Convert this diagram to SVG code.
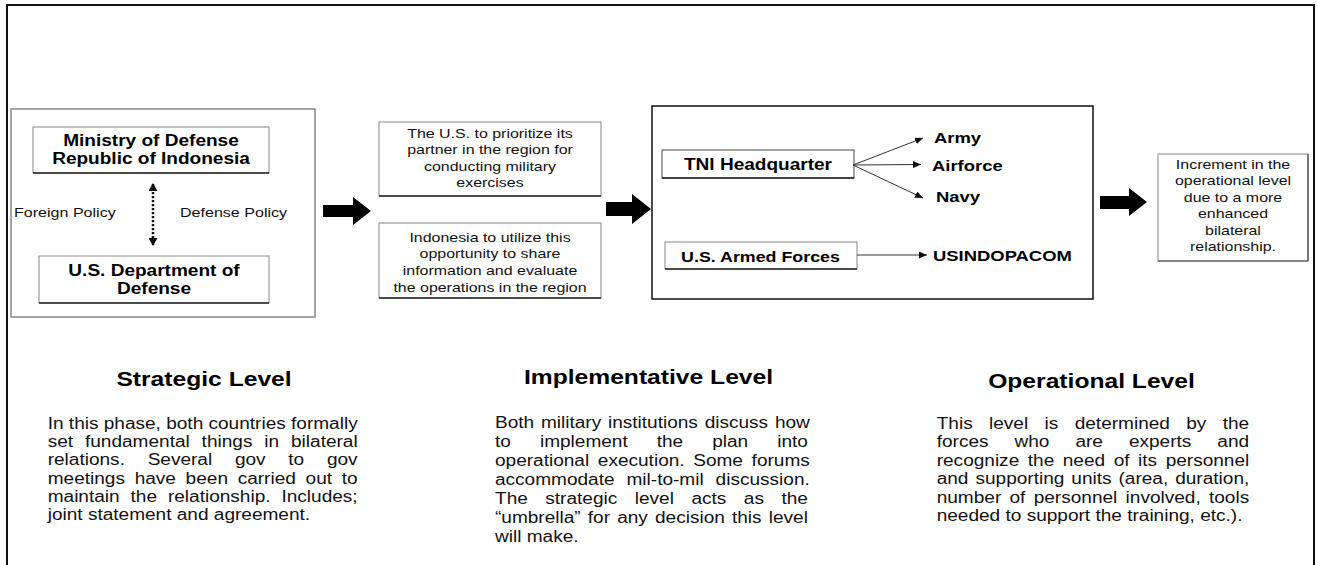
<svg xmlns="http://www.w3.org/2000/svg" width="1317" height="565" viewBox="0 0 1317 565">
<style>
.b{font-family:"Liberation Sans",Arial,sans-serif;font-weight:bold;fill:#000}
.r{font-family:"Liberation Sans",Arial,sans-serif;fill:#111}
.m{text-anchor:middle}
.box{fill:#fff;stroke:#888;stroke-width:1}
.shadow{stroke:#222;stroke-width:1.3}
.thin{stroke:#333;stroke-width:1;fill:none;marker-end:url(#ah)}
.block{fill:#000}
</style>
<defs>
<marker id="ah" viewBox="0 0 8 7" refX="8" refY="3.5" markerWidth="8" markerHeight="7" markerUnits="userSpaceOnUse" orient="auto"><path d="M0,0 L8,3.5 L0,7 z" fill="#111"/></marker>
<marker id="dh" viewBox="0 0 8 9" refX="7" refY="4.5" markerWidth="8" markerHeight="9" markerUnits="userSpaceOnUse" orient="auto-start-reverse"><path d="M0,0 L8,4.5 L0,9 z" fill="#111"/></marker>
</defs>
<rect x="0" y="0" width="1317" height="565" fill="#fff"/>
<path d="M7,565 V5 H1314 V565" fill="none" stroke="#111" stroke-width="2"/>

<g id="strategic-box">
<rect x="11" y="109" width="304" height="208" fill="#fff" stroke="#888" stroke-width="1.5"/>
</g>
<g id="mod-indonesia">
<rect class="box" x="33" y="127" width="236" height="46"/>
<line class="shadow" x1="33" y1="173" x2="269" y2="173"/>
<text class="b m" font-size="16" transform="matrix(1.19,0,0,1,151,0)" x="0" y="146.5">Ministry of Defense</text>
<text class="b m" font-size="16" transform="matrix(1.19,0,0,1,151,0)" x="0" y="164.5">Republic of Indonesia</text>
</g>
<g id="us-dod">
<rect class="box" x="39" y="256" width="230" height="47"/>
<line class="shadow" x1="39" y1="303" x2="269" y2="303"/>
<text class="b m" font-size="16" transform="matrix(1.19,0,0,1,154,0)" x="0" y="276">U.S. Department of</text>
<text class="b m" font-size="16" transform="matrix(1.19,0,0,1,154,0)" x="0" y="294">Defense</text>
</g>
<g id="policy-labels">
<text class="r" font-size="13.5" transform="matrix(1.19,0,0,1,14,0)" x="0" y="217">Foreign Policy</text>
<text class="r" font-size="13.5" transform="matrix(1.19,0,0,1,180,0)" x="0" y="217">Defense Policy</text>
</g>

<g id="impl-a">
<rect class="box" x="379" y="122" width="222" height="74"/>
<line class="shadow" x1="379" y1="196" x2="601" y2="196" stroke="#555"/>
<text class="r m" font-size="13.4" transform="matrix(1.19,0,0,1,490,0)" x="0" y="138">The U.S. to prioritize its</text>
<text class="r m" font-size="13.4" transform="matrix(1.19,0,0,1,490,0)" x="0" y="154.5">partner in the region for</text>
<text class="r m" font-size="13.4" transform="matrix(1.19,0,0,1,490,0)" x="0" y="171">conducting military</text>
<text class="r m" font-size="13.4" transform="matrix(1.19,0,0,1,490,0)" x="0" y="187.5">exercises</text>
</g>
<g id="impl-b">
<rect class="box" x="379" y="223" width="222" height="75"/>
<line class="shadow" x1="379" y1="298" x2="601" y2="298" stroke="#555"/>
<text class="r m" font-size="13.4" transform="matrix(1.19,0,0,1,490,0)" x="0" y="242">Indonesia to utilize this</text>
<text class="r m" font-size="13.4" transform="matrix(1.19,0,0,1,490,0)" x="0" y="258.5">opportunity to share</text>
<text class="r m" font-size="13.4" transform="matrix(1.19,0,0,1,490,0)" x="0" y="275.5">information and evaluate</text>
<text class="r m" font-size="13.4" transform="matrix(1.19,0,0,1,490,0)" x="0" y="292">the operations in the region</text>
</g>

<g id="operational-box">
<rect x="652" y="106" width="441" height="193" fill="#fff" stroke="#111" stroke-width="1.5"/>
</g>
<g id="tni-hq">
<rect x="662" y="150" width="192" height="28" fill="#fff" stroke="#444" stroke-width="1"/>
<line class="shadow" x1="662" y1="178" x2="854" y2="178"/>
<text class="b m" font-size="16" transform="matrix(1.19,0,0,1,758,0)" x="0" y="170">TNI Headquarter</text>
</g>
<g id="us-armed-forces">
<rect class="box" x="665" y="242" width="192" height="27"/>
<line class="shadow" x1="665" y1="269" x2="857" y2="269"/>
<text class="b m" font-size="15" transform="matrix(1.19,0,0,1,760.5,0)" x="0" y="262">U.S. Armed Forces</text>
</g>
<g id="army"><text class="b" font-size="15.5" transform="matrix(1.19,0,0,1,934,0)" x="0" y="143">Army</text></g>
<g id="airforce"><text class="b" font-size="15.5" transform="matrix(1.19,0,0,1,932,0)" x="0" y="171">Airforce</text></g>
<g id="navy"><text class="b" font-size="15.5" transform="matrix(1.19,0,0,1,936,0)" x="0" y="202">Navy</text></g>
<g id="usindopacom"><text class="b" font-size="15.5" transform="matrix(1.19,0,0,1,933,0)" x="0" y="261">USINDOPACOM</text></g>

<g id="result">
<rect class="box" x="1158" y="154" width="150" height="107" stroke="#777"/>
<line x1="1308" y1="154" x2="1308" y2="261" stroke="#444" stroke-width="1.2"/>
<line x1="1158" y1="261" x2="1308" y2="261" stroke="#444" stroke-width="1.2"/>
<text class="r m" font-size="13.4" transform="matrix(1.19,0,0,1,1233,0)" x="0" y="169">Increment in the</text>
<text class="r m" font-size="13.4" transform="matrix(1.19,0,0,1,1233,0)" x="0" y="185.5">operational level</text>
<text class="r m" font-size="13.4" transform="matrix(1.19,0,0,1,1233,0)" x="0" y="202">due to a more</text>
<text class="r m" font-size="13.4" transform="matrix(1.19,0,0,1,1233,0)" x="0" y="218.5">enhanced</text>
<text class="r m" font-size="13.4" transform="matrix(1.19,0,0,1,1233,0)" x="0" y="235">bilateral</text>
<text class="r m" font-size="13.4" transform="matrix(1.19,0,0,1,1233,0)" x="0" y="251.5">relationship.</text>
</g>

<g id="connectors">
<line x1="153" y1="184" x2="153" y2="245" stroke="#111" stroke-width="2.5" stroke-dasharray="2.2 1.8" marker-start="url(#dh)" marker-end="url(#dh)"/>
<polygon class="block" points="323,205 353,205 353,197 371,211 353,225 353,217 323,217"/>
<polygon class="block" points="606,202 632,202 632,194 651,209 632,224 632,216 606,216"/>
<polygon class="block" points="1100,196 1129,196 1129,188 1147,202 1129,216 1129,209 1100,209"/>
<line class="thin" x1="853" y1="165" x2="923" y2="138"/>
<line class="thin" x1="853" y1="165" x2="921" y2="164.5"/>
<line class="thin" x1="853" y1="165" x2="923" y2="198"/>
<line class="thin" x1="857" y1="255" x2="927" y2="255"/>
</g>

<g id="strategic-level">
<text class="b m" font-size="20.7" transform="matrix(1.19,0,0,1,204,0)" x="0" y="386">Strategic Level</text>
<g class="r" font-size="16" transform="matrix(1.19,0,0,1,47.7,0)">
<text x="0" y="429">In this phase, both countries formally</text>
<text x="0" y="447.2" style="word-spacing:5.55px">set fundamental things in bilateral</text>
<text x="0" y="465.4" style="word-spacing:14.65px">relations. Several gov to gov</text>
<text x="0" y="483.6" style="word-spacing:3.72px">meetings have been carried out to</text>
<text x="0" y="501.8" style="word-spacing:4.73px">maintain the relationship. Includes;</text>
<text x="0" y="520">joint statement and agreement.</text>
</g>
</g>

<g id="implementative-level">
<text class="b m" font-size="20.7" transform="matrix(1.19,0,0,1,648.5,0)" x="0" y="384">Implementative Level</text>
<g class="r" font-size="16" transform="matrix(1.19,0,0,1,495,0)">
<text x="0" y="428.5" style="word-spacing:1.25px">Both military institutions discuss how</text>
<text x="0" y="447.4" style="word-spacing:19.95px">to implement the plan into</text>
<text x="0" y="466.3" style="word-spacing:2.83px">operational execution. Some forums</text>
<text x="0" y="485.2" style="word-spacing:5.6px">accommodate mil-to-mil discussion.</text>
<text x="0" y="504.1" style="word-spacing:10.28px">The strategic level acts as the</text>
<text x="0" y="523" style="word-spacing:1.56px">“umbrella” for any decision this level</text>
<text x="0" y="541.9">will make.</text>
</g>
</g>

<g id="operational-level">
<text class="b m" font-size="20.7" transform="matrix(1.19,0,0,1,1091.5,0)" x="0" y="388">Operational Level</text>
<g class="r" font-size="16" transform="matrix(1.19,0,0,1,936.7,0)">
<text x="0" y="429" style="word-spacing:9.32px">This level is determined by the</text>
<text x="0" y="447.4" style="word-spacing:17.4px">forces who are experts and</text>
<text x="0" y="465.8" style="word-spacing:2.74px">recognize the need of its personnel</text>
<text x="0" y="484.2" style="word-spacing:1.43px">and supporting units (area, duration,</text>
<text x="0" y="502.6" style="word-spacing:2.53px">number of personnel involved, tools</text>
<text x="0" y="521">needed to support the training, etc.).</text>
</g>
</g>
</svg>
